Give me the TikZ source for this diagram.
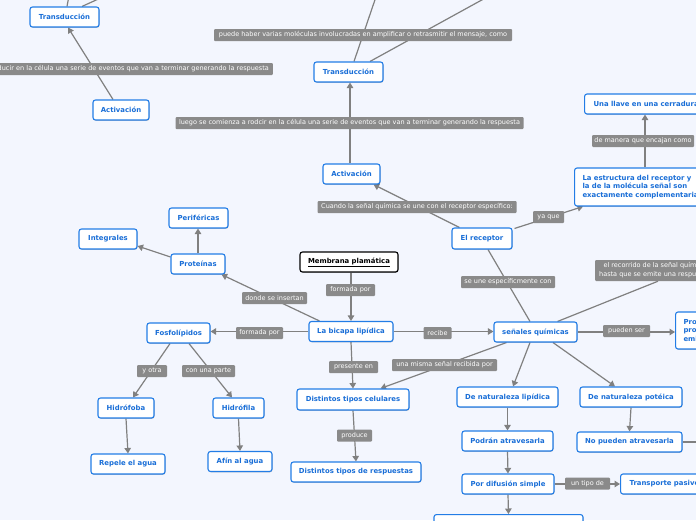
\documentclass[tikz,border=0pt]{standalone}
\usepackage{fontspec}
\setmainfont{DejaVu Sans}
\usetikzlibrary{arrows.meta,calc,shadows}
\definecolor{bgc}{RGB}{243,246,254}
\definecolor{nblue}{RGB}{35,125,230}
\definecolor{tblue}{RGB}{25,110,215}
\definecolor{lgray}{RGB}{138,138,138}
\definecolor{egray}{RGB}{128,128,128}
\pgfdeclarelayer{bgl}\pgfdeclarelayer{edges}\pgfsetlayers{bgl,edges,main}
\tikzset{
 box/.style={draw=nblue, line width=1.1pt, fill=white, rounded corners=2.5pt, text=tblue,
   font=\fontsize{6.9}{8.5}\selectfont\bfseries, minimum height=20pt, inner xsep=3pt, inner ysep=2pt,
   drop shadow={shadow xshift=0.5pt, shadow yshift=-0.8pt, opacity=0.22, fill=black}},
 mainbox/.style={box, draw=black, text=black},
 lbl/.style={fill=lgray, text=white, rounded corners=1pt, font=\fontsize{6.5}{9}\selectfont,
   inner xsep=2pt, inner ysep=1pt, minimum height=12pt},
 conn/.style={draw=egray, line width=1.2pt},
 arr/.style={conn, -{Triangle[width=6.5pt,length=5.5pt]}},
}
\begin{document}
\begin{tikzpicture}[x=1pt,y=-1pt]
\begin{pgfonlayer}{bgl}
\fill[bgc] (0,0) rectangle (696,520);
\end{pgfonlayer}
\useasboundingbox (0,0) rectangle (696,520);
\clip (0,0) rectangle (696,520);

% nodes
\node[box, minimum width=69pt] (tdl) at (64.5,17) {Transducción};
\node[box, minimum width=56pt] (actl) at (121,110) {Activación};
\node[box, minimum width=69pt] (tdc) at (348.5,72) {Transducción};
\node[box, minimum width=57pt] (actc) at (351.5,174) {Activación};
\node[box, minimum width=60pt, minimum height=21pt] (rec) at (482,238.5) {El receptor};
\node[box, anchor=west, align=left, text width=140pt, inner xsep=8pt, minimum height=38pt] (est) at (574,187) {La estructura del receptor y\\la de la molécula señal son\\exactamente complementarias};
\node[box, anchor=west, align=left, text width=120pt, inner xsep=9pt] (llave) at (584,104) {Una llave en una cerradura};
\node[mainbox, minimum width=98pt] (memb) at (349,262) {\underline{Membrana plamática}};
\node[box, minimum width=84pt] (bic) at (351,331.5) {La bicapa lipídica};
\node[box, minimum width=54pt] (prot) at (198,264) {Proteínas};
\node[box, minimum width=59pt] (peri) at (198.5,218) {Periféricas};
\node[box, minimum width=58pt] (integ) at (108,239) {Integrales};
\node[box, minimum width=63pt] (fosf) at (178.5,333) {Fosfolípidos};
\node[box, minimum width=56pt] (hfob) at (126,408) {Hidrófoba};
\node[box, minimum width=51pt] (hfil) at (238.5,408) {Hidrófila};
\node[box, minimum width=74pt] (rep) at (128,464) {Repele el agua};
\node[box, minimum width=64pt] (afin) at (240,461.5) {Afín al agua};
\node[box, minimum width=112pt, minimum height=21pt] (dtc) at (353,399.5) {Distintos tipos celulares};
\node[box, minimum width=130pt] (dtr) at (356,472) {Distintos tipos de respuestas};
\node[box, minimum width=83pt] (sq) at (535.5,332) {señales químicas};
\node[box, anchor=west, align=left, text width=40pt, inner xsep=8pt, minimum height=37pt] (pro) at (675,330.5) {Pro\\pro\\emi};
\node[box, minimum width=101pt] (dnl) at (507.5,397) {De naturaleza lipídica};
\node[box, minimum width=102pt] (dnp) at (631,397) {De naturaleza potéica};
\node[box, minimum width=91pt] (pod) at (507.5,441) {Podrán atravesarla};
\node[box, minimum width=105pt] (nop) at (629.5,442) {No pueden atravesarla};
\node[box, minimum width=92pt] (pds) at (508,484) {Por difusión simple};
\node[box, anchor=west, align=left, text width=100pt, inner xsep=9pt] (tp) at (620,484) {Transporte pasivo};
\node[box, anchor=north, minimum width=149pt] (bn) at (508.5,514) {};

% labels
\node[lbl, anchor=east, text width=340pt, align=right, inner xsep=4pt] (lleft) at (273,69) {ducir en la célula una serie de eventos que van a terminar generando la respuesta};
\node[lbl, minimum width=298pt] (lpuede) at (363,35) {puede haber varias moléculas involucradas en amplificar o retrasmitir el mensaje, como};
\node[lbl, minimum width=348pt] (lluego) at (349.5,123) {luego se comienza a rodcir en la célula una serie de eventos que van a terminar generando la respuesta};
\node[lbl, minimum width=199pt] (lcuando) at (417,207) {Cuando la señal química se une con el receptor específico:};
\node[lbl, minimum width=31pt] (lyaque) at (548.5,217) {ya que};
\node[lbl, minimum width=102pt] (lmanera) at (643,141) {de manera que encajan como};
\node[lbl, minimum width=49pt] (lform1) at (350.5,290) {formada por};
\node[lbl, minimum width=65pt] (ldonde) at (274.5,298) {donde se insertan};
\node[lbl, minimum width=47pt] (lform2) at (259.5,333) {formada por};
\node[lbl, minimum width=30pt] (lyotra) at (152,371) {y otra};
\node[lbl, minimum width=53pt] (lcon) at (208.5,371) {con una parte};
\node[lbl, minimum width=49pt] (lpres) at (353.5,367) {presente en};
\node[lbl, minimum width=35pt] (lprod) at (354.5,435.5) {produce};
\node[lbl, minimum width=28pt] (lrecibe) at (437.5,333) {recibe};
\node[lbl, minimum width=105pt] (lmisma) at (444.5,365) {una misma señal recibida por};
\node[lbl, minimum width=94pt] (lune) at (508,282) {se une específicmente con};
\node[lbl, anchor=west, align=center, inner xsep=4pt, minimum height=21pt] (lrec) at (595,270.5) {el recorrido de la señal química\\hasta que se emite una respuesta};
\node[lbl, minimum width=47pt] (lpueden) at (626.5,331) {pueden ser};
\node[lbl, minimum width=45pt] (ltipo) at (587.5,483.5) {un tipo de};

% connectors
\begin{pgfonlayer}{edges}
\clip (0,0) rectangle (696,520);
\coordinate (tdlu1) at (71,-15);
\coordinate (tdlu2) at (129,-15);
\coordinate (tdcu1) at (380,-15);
\coordinate (tdcu2) at (509,-15);
\coordinate (nopr) at (720,442);
\draw[conn] ($(tdl.north)+(2.5,0)$) -- (tdlu1);
\draw[conn] ($(tdl.north)+(17.5,0)$) -- (tdlu2);
\draw[arr] ($(actl.north)+(-8,0)$) -- ($(tdl.south)+(3.5,0)$);
\draw[conn] ($(tdc.north)+(5.5,0)$) -- (tdcu1);
\draw[conn] ($(tdc.north)+(21.5,0)$) -- (tdcu2);
\draw[arr] ($(actc.north)+(-1.5,0)$) -- ($(tdc.south)+(1.5,0)$);
\draw[arr] ($(rec.north west)+(8,0)$) -- ($(actc.south east)+(-7,0)$);
\draw[arr] ($(rec.north east)+(2,1)$) -- ($(est.south west)+(9,0)$);
\draw[arr] ($(est.north west)+(71,0)$) -- ($(llave.south west)+(61,0)$);
\draw[arr] ($(memb.south)+(2,0)$) -- (bic.north);
\draw[arr] ($(bic.north west)+(11,0)$) -- ($(prot.south east)+(-4,0)$);
\draw[arr] (prot.north) -- (prot.north |- peri.south);
\draw[arr] ($(prot.west)+(0,-7)$) -- ($(integ.east)+(0,7)$);
\draw[arr] (bic.west) -- (bic.west -| fosf.east);
\draw[arr] ($(fosf.south)+(-8.5,0)$) -- ($(hfob.north)+(7,0)$);
\draw[arr] ($(fosf.south)+(10.5,0)$) -- ($(hfil.north)+(-6.5,0)$);
\draw[arr] (hfob.south) -- (rep.north);
\draw[arr] (hfil.south) -- (afin.north);
\draw[arr] (bic.south) -- (dtc.north);
\draw[arr] (dtc.south) -- (dtr.north);
\draw[arr] (bic.east) -- (bic.east -| sq.west);
\draw[arr] ($(sq.south west)+(13,0)$) -- ($(dtc.north east)+(-29,0)$);
\draw[conn] ($(rec.south)+(6,0)$) -- ($(sq.north)+(-5.5,0)$);
\draw[conn] ($(sq.north east)+(-20,0)$) -- ($(lrec.south west)+(63,0)$);
\draw[arr] (sq.east) -- (sq.east -| pro.west);
\draw[arr] ($(sq.south)+(-5.5,0)$) -- ($(dnl.north)+(5.5,0)$);
\draw[arr] ($(sq.south)+(17.5,0)$) -- ($(dnp.north)+(-16,0)$);
\draw[arr] (dnl.south) -- (pod.north);
\draw[arr] (dnp.south) -- (nop.north);
\draw[conn] (nop.east) -- (nopr);
\draw[arr] (pod.south) -- (pds.north);
\draw[arr] (pds.east) -- (pds.east -| tp.west);
\draw[arr] (pds.south) -- (bn.north);
\end{pgfonlayer}
\end{tikzpicture}
\end{document}
